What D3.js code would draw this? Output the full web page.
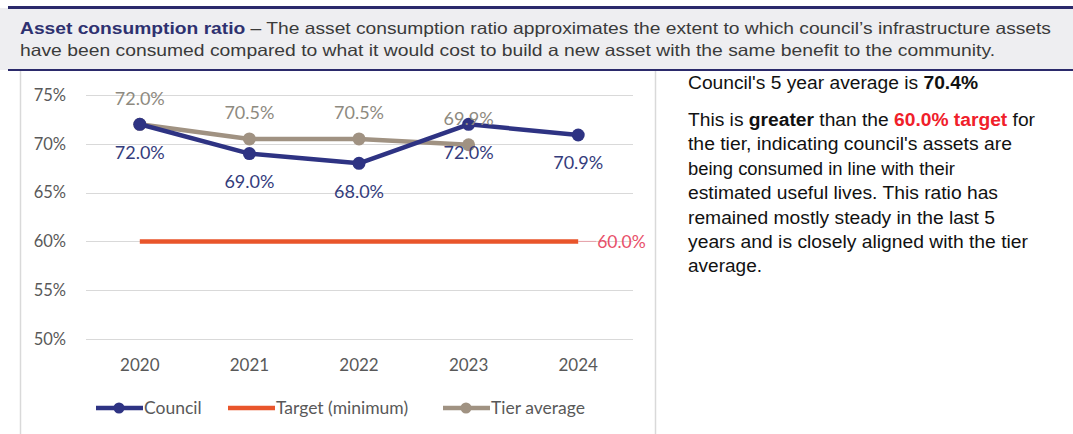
<!DOCTYPE html>
<html>
<head>
<meta charset="utf-8">
<script src="https://cdn.jsdelivr.net/npm/d3@7"></script>
<style>
  html, body { margin: 0; padding: 0; background: #fff; }
  svg { display: block; }
</style>
</head>
<body>
<svg id="chart" width="1073" height="434"></svg>
<script>
// ---- data ----
const years = ["2020", "2021", "2022", "2023", "2024"];
const council = [72.0, 69.0, 68.0, 72.0, 70.9];
const tierAverage = [72.0, 70.5, 70.5, 69.9];
const target = [60.0, 60.0, 60.0, 60.0, 60.0];
const yTicks = [50, 55, 60, 65, 70, 75];
const legendLabels = ["Council", "Target (minimum)", "Tier average"];

const headerTitle = "Asset consumption ratio";
const headerLine1 = " – The asset consumption ratio approximates the extent to which council’s infrastructure assets";
const headerLine2 = "have been consumed compared to what it would cost to build a new asset with the same benefit to the community.";

const colors = {
  council: "#2E3383",
  target: "#E9552B",
  tier: "#A09282",
  targetLabel: "#E8506A",
  councilLabel: "#343C7C",
  tierLabel: "#8E8A80",
  axisText: "#595959",
  grid: "#D9D9D9",
  navy: "#2B2A6B"
};

const svg = d3.select("#chart");
const chartFont = "Lato, 'Liberation Sans', sans-serif";

// ---- header band ----
svg.append("rect").attr("x", 0).attr("y", 8).attr("width", 1073).attr("height", 62)
  .attr("fill", "#EEEEF1");
svg.append("line").attr("x1", 8).attr("x2", 1073).attr("y1", 7.5).attr("y2", 7.5)
  .attr("stroke", colors.navy).attr("stroke-width", 3);
svg.append("line").attr("x1", 8).attr("x2", 1073).attr("y1", 70).attr("y2", 70)
  .attr("stroke", colors.navy).attr("stroke-width", 2);

const headerFont = "'Liberation Sans', Arial, sans-serif";
const h1 = svg.append("text").attr("x", 20).attr("y", 34)
  .attr("font-family", headerFont).attr("font-size", 16.5).attr("fill", "#3A3A3A")
  .attr("textLength", 1031).attr("lengthAdjust", "spacingAndGlyphs");
h1.append("tspan").attr("font-weight", "bold").attr("fill", "#2E3170").text(headerTitle);
h1.append("tspan").text(headerLine1);
svg.append("text").attr("x", 20).attr("y", 56)
  .attr("font-family", headerFont).attr("font-size", 16.5).attr("fill", "#3A3A3A")
  .attr("textLength", 975).attr("lengthAdjust", "spacingAndGlyphs")
  .text(headerLine2);

// ---- chart frame ----
svg.append("line").attr("x1", 20.5).attr("x2", 20.5).attr("y1", 71).attr("y2", 434)
  .attr("stroke", "#D9D9D9").attr("stroke-width", 1.5);
svg.append("line").attr("x1", 655.5).attr("x2", 655.5).attr("y1", 71).attr("y2", 434)
  .attr("stroke", "#D9D9D9").attr("stroke-width", 1.5);

// ---- scales ----
const x = d3.scaleBand().domain(years).range([85, 633]);
const cx = d => x(d) + x.bandwidth() / 2;
const y = d3.scaleLinear().domain([50, 75]).range([339, 95]);

// gridlines
svg.append("g")
  .selectAll("line").data(yTicks).join("line")
  .attr("x1", 86).attr("x2", 633)
  .attr("y1", d => Math.round(y(d)) + 0.5).attr("y2", d => Math.round(y(d)) + 0.5)
  .attr("stroke", colors.grid).attr("stroke-width", 1);

// y axis labels
const yAxis = d3.axisLeft(y).tickValues(yTicks).tickFormat(d => d + "%").tickSize(0).tickPadding(0);
const yg = svg.append("g").attr("transform", "translate(66,0)").call(yAxis);
yg.select(".domain").remove();
yg.selectAll("text").attr("font-family", chartFont).attr("font-size", 16.5)
  .attr("fill", colors.axisText);

// x axis labels
const xAxis = d3.axisBottom(x).tickSize(0).tickPadding(0);
const xg = svg.append("g").attr("transform", "translate(0,359)").call(xAxis);
xg.select(".domain").remove();
xg.selectAll("text").attr("font-family", chartFont).attr("font-size", 17)
  .attr("fill", colors.axisText);

// ---- series ----
const line = d3.line().x((d, i) => cx(years[i])).y(d => y(d));

// target
svg.append("path").datum(target).attr("d", line)
  .attr("fill", "none").attr("stroke", colors.target).attr("stroke-width", 4.5);
const lastT = target.length - 1;
svg.append("line")
  .attr("x1", cx(years[lastT])).attr("x2", cx(years[lastT]) + 18)
  .attr("y1", y(target[lastT])).attr("y2", y(target[lastT]))
  .attr("stroke", "#E8A0A8").attr("stroke-width", 1);
svg.append("text").attr("x", cx(years[lastT]) + 19).attr("y", y(target[lastT]))
  .attr("dy", "0.35em").attr("font-family", chartFont).attr("font-size", 17.5)
  .attr("fill", colors.targetLabel).text(target[lastT].toFixed(1) + "%");

// tier average
svg.append("path").datum(tierAverage).attr("d", line)
  .attr("fill", "none").attr("stroke", colors.tier).attr("stroke-width", 4.5)
  .attr("stroke-linejoin", "round");
svg.append("g").selectAll("circle").data(tierAverage).join("circle")
  .attr("cx", (d, i) => cx(years[i])).attr("cy", d => y(d)).attr("r", 6.5)
  .attr("fill", colors.tier);

// council
svg.append("path").datum(council).attr("d", line)
  .attr("fill", "none").attr("stroke", colors.council).attr("stroke-width", 4.5)
  .attr("stroke-linejoin", "round");
svg.append("g").selectAll("circle").data(council).join("circle")
  .attr("cx", (d, i) => cx(years[i])).attr("cy", d => y(d)).attr("r", 6.5)
  .attr("fill", colors.council);

// data labels
svg.append("g").selectAll("text").data(tierAverage).join("text")
  .attr("x", (d, i) => cx(years[i])).attr("y", d => y(d) - 26)
  .attr("dy", "0.35em").attr("text-anchor", "middle")
  .attr("font-family", chartFont).attr("font-size", 18).attr("fill", colors.tierLabel)
  .text(d => d.toFixed(1) + "%");
svg.append("g").selectAll("text").data(council).join("text")
  .attr("x", (d, i) => cx(years[i])).attr("y", d => y(d) + 28)
  .attr("dy", "0.35em").attr("text-anchor", "middle")
  .attr("font-family", chartFont).attr("font-size", 18).attr("fill", colors.councilLabel)
  .text(d => d.toFixed(1) + "%");

// ---- legend ----
const legendItems = [
  { label: legendLabels[0], color: colors.council, marker: true, x: 96 },
  { label: legendLabels[1], color: colors.target, marker: false, x: 228 },
  { label: legendLabels[2], color: colors.tier, marker: true, x: 443 }
];
const lg = svg.append("g").attr("transform", "translate(0,408)");
legendItems.forEach(it => {
  lg.append("line").attr("x1", it.x).attr("x2", it.x + 47).attr("y1", 0).attr("y2", 0)
    .attr("stroke", it.color).attr("stroke-width", 4.5);
  if (it.marker) {
    lg.append("circle").attr("cx", it.x + 23).attr("cy", 0).attr("r", 5.5).attr("fill", it.color);
  }
  lg.append("text").attr("x", it.x + 48).attr("y", 0).attr("dy", "0.35em")
    .attr("font-family", chartFont).attr("font-size", 17.5).attr("fill", colors.axisText)
    .text(it.label);
});

// ---- commentary ----
const bodyFont = "'Liberation Sans', Arial, sans-serif";
const note = svg.append("g").attr("font-family", bodyFont).attr("font-size", 17.5).attr("fill", "#111");
const n1 = note.append("text").attr("x", 688).attr("y", 89)
  .attr("textLength", 290).attr("lengthAdjust", "spacingAndGlyphs");
n1.append("tspan").text("Council's 5 year average is ");
n1.append("tspan").attr("font-weight", "bold").text("70.4%");

// each line: its pieces and its set width
const paraLines = [
  { w: 347, parts: [["This is ", null], ["greater", "bold"], [" than the ", null], ["60.0% target", "red"], [" for", null]] },
  { w: 324, parts: [["the tier, indicating council's assets are", null]] },
  { w: 267, parts: [["being consumed in line with their", null]] },
  { w: 310, parts: [["estimated useful lives. This ratio has", null]] },
  { w: 307, parts: [["remained mostly steady in the last 5", null]] },
  { w: 340, parts: [["years and is closely aligned with the tier", null]] },
  { w: 74, parts: [["average.", null]] }
];
paraLines.forEach((ln, i) => {
  const t = note.append("text").attr("x", 688).attr("y", 126 + i * 24.4)
    .attr("textLength", ln.w).attr("lengthAdjust", "spacingAndGlyphs");
  ln.parts.forEach(([s, style]) => {
    const sp = t.append("tspan").text(s);
    if (style === "bold") sp.attr("font-weight", "bold");
    if (style === "red") sp.attr("font-weight", "bold").attr("fill", "#F0202A");
  });
});
</script>
</body>
</html>
